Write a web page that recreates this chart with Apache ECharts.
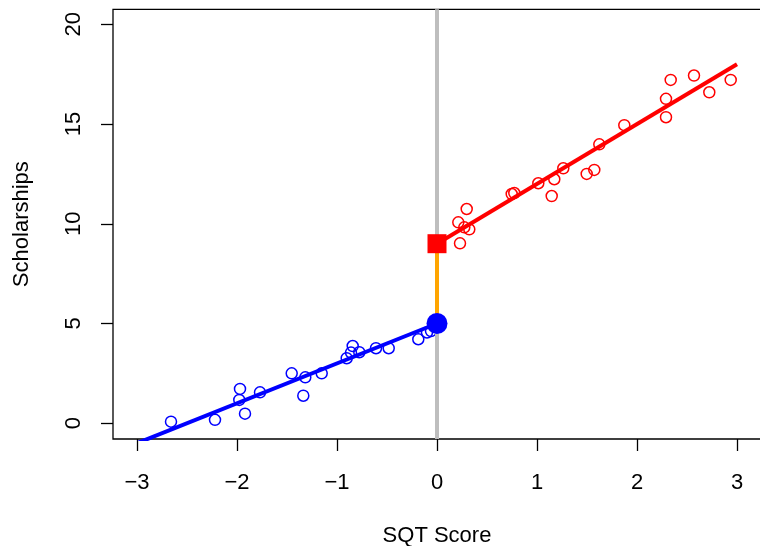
<!DOCTYPE html>
<html>
<head>
<meta charset="utf-8">
<script src="https://cdn.jsdelivr.net/npm/echarts@6/dist/echarts.min.js"></script>
<style>
html,body{margin:0;padding:0;background:#fff;}
#main{width:760px;height:546px;}
</style>
</head>
<body>
<div id="main"></div>
<script>
// Data
const xTicks = [-3, -2, -1, 0, 1, 2, 3];
const yTicks = [0, 5, 10, 15, 20];

const blueX = [-2.66, -2.22, -1.92, -1.977, -1.97, -1.77, -1.453, -1.337, -1.317, -1.153, -0.903, -0.843, -0.86, -0.777, -0.61, -0.483, -0.187, -0.1, -0.06];
const blueY = [0.08, 0.17, 0.48, 1.17, 1.72, 1.55, 2.5, 1.38, 2.3, 2.5, 3.26, 3.87, 3.54, 3.56, 3.76, 3.76, 4.21, 4.55, 4.62];

const redX = [0.23, 0.213, 0.297, 0.273, 0.323, 0.747, 0.773, 1.013, 1.147, 1.173, 1.263, 1.497, 1.573, 1.623, 1.873, 2.29, 2.29, 2.337, 2.57, 2.723, 2.937];
const redY = [9.02, 10.07, 10.74, 9.82, 9.72, 11.49, 11.54, 12.03, 11.39, 12.23, 12.78, 12.5, 12.7, 13.98, 14.94, 15.34, 16.26, 17.21, 17.43, 16.59, 17.21];

const blueFitX = [-3, 0];
const blueFitY = [-1, 5];
const redFitX = [0, 3];
const redFitY = [9, 18];
const cutoffX = 0;
const jumpY = [5, 9];
const xRange = [-3.24, 3.24];
const yRange = [-0.79, 20.75];

const zip = (a, b) => a.map((v, i) => [v, b[i]]);

const chart = echarts.init(document.getElementById('main'), null, {renderer: 'canvas'});
const FONT = 'Liberation Sans, Arial, Helvetica, sans-serif';

chart.setOption({
  animation: false,
  backgroundColor: '#ffffff',
  grid: {
    left: 113, top: 9.3, width: 648, height: 429.7,
    containLabel: false, outerBoundsMode: 'none',
    show: true, borderColor: '#000', borderWidth: 1.3, backgroundColor: 'transparent'
  },
  xAxis: {
    type: 'value', min: xRange[0], max: xRange[1],
    splitLine: {show: false},
    axisLine: {show: false, onZero: false},
    axisTick: {show: true, inside: false, length: 12, lineStyle: {color: '#000', width: 1.3}, customValues: xTicks},
    axisLabel: {show: true, margin: 33, fontSize: 22, color: '#000', fontFamily: FONT,
      customValues: xTicks,
      formatter: v => (v < 0 ? '\u2212' + Math.abs(v) : String(v))},
    name: 'SQT Score', nameLocation: 'middle', nameGap: 86,
    nameTextStyle: {fontSize: 22, color: '#000', fontFamily: FONT}
  },
  yAxis: {
    type: 'value', min: yRange[0], max: yRange[1],
    splitLine: {show: false},
    axisLine: {show: false, onZero: false},
    axisTick: {show: true, inside: false, length: 12, lineStyle: {color: '#000', width: 1.3}, customValues: yTicks},
    axisLabel: {show: true, margin: 28, rotate: 90, fontSize: 22, color: '#000', fontFamily: FONT,
      customValues: yTicks},
    name: 'Scholarships', nameLocation: 'middle', nameGap: 80, nameRotate: 90,
    nameTextStyle: {fontSize: 22, color: '#000', fontFamily: FONT}
  },
  series: [
    {
      type: 'scatter', data: zip(blueX, blueY), symbol: 'circle', symbolSize: 11,
      itemStyle: {color: 'rgba(0,0,0,0)', borderColor: '#0000FF', borderWidth: 1.5, opacity: 1}, z: 2
    },
    {
      type: 'scatter', data: zip(redX, redY), symbol: 'circle', symbolSize: 11,
      itemStyle: {color: 'rgba(0,0,0,0)', borderColor: '#FF0000', borderWidth: 1.5, opacity: 1}, z: 2
    },
    {
      type: 'line', data: [[cutoffX, yRange[0]], [cutoffX, yRange[1]]], showSymbol: false,
      lineStyle: {color: '#BEBEBE', width: 4}, z: 3, clip: true
    },
    {
      type: 'line', data: zip(blueFitX, blueFitY), showSymbol: false,
      lineStyle: {color: '#0000FF', width: 4}, z: 4, clip: true
    },
    {
      type: 'line', data: zip(redFitX, redFitY), showSymbol: false,
      lineStyle: {color: '#FF0000', width: 4}, z: 4, clip: true
    },
    {
      type: 'line', data: [[cutoffX, jumpY[0]], [cutoffX, jumpY[1]]], showSymbol: false,
      lineStyle: {color: '#FFA500', width: 4}, z: 5
    },
    {
      type: 'scatter', data: [[cutoffX, jumpY[1]]], symbol: 'rect', symbolSize: 19,
      itemStyle: {color: '#FF0000', opacity: 1}, z: 6
    },
    {
      type: 'scatter', data: [[cutoffX, jumpY[0]]], symbol: 'circle', symbolSize: 21,
      itemStyle: {color: '#0000FF', opacity: 1}, z: 6
    }
  ]
});
</script>
</body>
</html>
